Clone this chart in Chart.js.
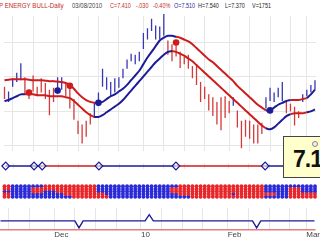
<!DOCTYPE html>
<html>
<head>
<meta charset="utf-8">
<script src="https://cdn.jsdelivr.net/npm/chart.js@4.4.1/dist/chart.umd.min.js"></script>
<style>
  html, body { margin: 0; padding: 0; background: #fff; }
  #wrap { position: relative; width: 320px; height: 240px; overflow: hidden; font-family: "Liberation Sans", Arial, sans-serif; }
  #wrap canvas { position: absolute; left: 0; }
  .hdr { position: absolute; top: 2px; font-size: 7px; line-height: 8px; white-space: pre; z-index: 2; transform-origin: 0 0; transform: scaleX(0.78); }
  .red { color: #c62828; }
  #priceBox { position: absolute; left: 283px; top: 136px; width: 50px; height: 40px; background: #ffffcc; border: 1px solid #444; z-index: 3; }
  #priceBox span.val { position: absolute; left: 9px; top: 9px; font-size: 23px; font-weight: bold; color: #111; letter-spacing: -1px; }
  #priceBox span.pin { position: absolute; left: 28px; top: 4px; width: 4px; height: 4px; border: 1px solid #888; border-radius: 50%; background: #eee; }
</style>
</head>
<body>
<div id="wrap">
  <span class="hdr red" style="left:-1px;transform:scaleX(0.88)">P ENERGY BULL-Daily</span>
  <span class="hdr" style="left:72px;color:#444;transform:scaleX(0.86)">03/08/2010</span>
  <span class="hdr red" style="left:110px">C=7.410</span>
  <span class="hdr red" style="left:136px">-.030</span>
  <span class="hdr red" style="left:153px">-0.40%</span>
  <span class="hdr" style="left:174px;color:#2a2aa0">O=7.510</span>
  <span class="hdr" style="left:198px;color:#222">H=7.540</span>
  <span class="hdr" style="left:225px;color:#222">L=7.370</span>
  <span class="hdr" style="left:252px;color:#222">V=1751</span>

  <canvas id="price" width="320" height="143" style="top:12px"></canvas>
  <canvas id="signal" width="320" height="16" style="top:158px"></canvas>
  <canvas id="matrix" width="320" height="21" style="top:181px"></canvas>
  <canvas id="cycle" width="320" height="32" style="top:208px"></canvas>

  <div id="priceBox"><span class="val">7.1</span><span class="pin"></span></div>
</div>

<script>
// ── Data ─────────────────────────────────────────────────

const barHigh = [
  7.50, 7.40, 7.68, 7.80, 8.00, 7.70, 7.44, 7.74, 7.50, 7.68,
  7.58, 7.44, 7.48, 7.70, 7.70, 7.58, 7.58, 7.24, 6.78, 6.70,
  6.78, 6.94, 7.18, 7.38, 7.88, 7.70, 7.60, 7.68, 7.70, 7.88,
  8.08, 8.20, 8.18, 8.24, 8.64, 8.74, 8.94, 8.80, 8.78, 9.04,
  8.48, 8.40, 8.38, 8.24, 8.14, 8.18, 7.94, 7.98, 7.60, 7.50,
  7.34, 7.28, 7.18, 7.28, 7.30, 7.20, 7.28, 7.00, 6.78, 6.80,
  6.78, 6.70, 6.70, 6.74, 7.28, 7.48, 7.38, 7.48, 7.60, 7.18,
  7.14, 7.08, 6.98, 7.34, 7.44, 7.54, 7.64,
];
const barLow = [
  7.24, 7.18, 7.50, 7.60, 7.64, 7.34, 7.24, 7.40, 7.30, 7.38,
  7.24, 6.90, 7.18, 7.38, 7.44, 7.30, 7.04, 6.80, 6.50, 6.30,
  6.44, 6.70, 6.84, 7.10, 7.50, 7.44, 7.30, 7.38, 7.48, 7.68,
  7.88, 8.04, 7.98, 8.04, 8.30, 8.50, 8.68, 8.50, 8.50, 8.58,
  8.18, 8.04, 8.14, 7.90, 7.98, 7.88, 7.68, 7.54, 7.18, 7.24,
  7.00, 6.88, 6.70, 6.58, 6.84, 6.94, 7.10, 6.64, 6.20, 6.44,
  6.40, 6.30, 6.30, 6.50, 7.04, 7.20, 7.18, 7.28, 7.20, 6.94,
  6.98, 6.68, 6.84, 7.18, 7.30, 7.38, 7.44,
];
// 1 = up (blue), -1 = down (red)
const barTrend = [
  -1, 1, 1, 1, 1, -1, -1, -1, -1, -1,
  -1, -1, -1, 1, 1, -1, -1, -1, -1, -1,
  -1, -1, 1, 1, 1, 1, 1, 1, 1, 1,
  1, 1, 1, 1, 1, 1, 1, 1, 1, 1,
  -1, -1, -1, -1, -1, -1, -1, -1, -1, -1,
  -1, -1, -1, -1, -1, -1, 1, -1, -1, -1,
  -1, -1, -1, -1, 1, 1, 1, 1, 1, -1,
  -1, -1, -1, 1, 1, 1, 1,
];

const bandUpper = [
  7.64, 7.65, 7.66, 7.66, 7.66, 7.66, 7.65, 7.64, 7.64, 7.64,
  7.63, 7.62, 7.62, 7.61, 7.60, 7.58, 7.54, 7.46, 7.36, 7.28,
  7.22, 7.18, 7.16, 7.16, 7.18, 7.24, 7.30, 7.34, 7.40, 7.46,
  7.54, 7.64, 7.74, 7.84, 7.98, 8.12, 8.24, 8.36, 8.48, 8.54,
  8.58, 8.58, 8.56, 8.54, 8.50, 8.46, 8.40, 8.32, 8.24, 8.16,
  8.08, 8.02, 7.94, 7.86, 7.78, 7.70, 7.62, 7.52, 7.44, 7.36,
  7.28, 7.20, 7.12, 7.06, 7.00, 7.00, 7.06, 7.12, 7.16, 7.20,
  7.22, 7.22, 7.22, 7.24, 7.26, 7.34, 7.44,
];
const bandLower = [
  7.20, 7.22, 7.26, 7.30, 7.34, 7.34, 7.34, 7.34, 7.32, 7.32,
  7.32, 7.30, 7.30, 7.30, 7.30, 7.28, 7.26, 7.20, 7.12, 7.04,
  6.96, 6.90, 6.86, 6.86, 6.90, 6.96, 7.02, 7.08, 7.14, 7.22,
  7.32, 7.42, 7.52, 7.62, 7.72, 7.82, 7.92, 8.02, 8.10, 8.18,
  8.24, 8.26, 8.24, 8.20, 8.16, 8.10, 8.04, 7.96, 7.88, 7.80,
  7.72, 7.64, 7.56, 7.48, 7.40, 7.32, 7.24, 7.16, 7.08, 7.00,
  6.92, 6.84, 6.76, 6.68, 6.62, 6.60, 6.64, 6.72, 6.80, 6.88,
  6.92, 6.94, 6.94, 6.94, 6.96, 6.98, 7.02,
];
const upperTrend = [
  -1, -1, -1, -1, -1, -1, -1, -1, -1, -1,
  -1, -1, -1, -1, -1, -1, -1, -1, -1, -1,
  -1, -1, -1, 1, 1, 1, 1, 1, 1, 1,
  1, 1, 1, 1, 1, 1, 1, 1, 1, 1,
  1, 1, -1, -1, -1, -1, -1, -1, -1, -1,
  -1, -1, -1, -1, -1, -1, -1, -1, -1, -1,
  -1, -1, -1, -1, 1, 1, 1, 1, 1, 1,
  -1, -1, -1, -1, 1, 1, 1,
];
const lowerTrend = [
  1, 1, 1, 1, 1, -1, -1, -1, -1, -1,
  -1, -1, -1, -1, -1, -1, -1, -1, -1, -1,
  -1, -1, 1, 1, 1, 1, 1, 1, 1, 1,
  1, 1, 1, 1, 1, 1, 1, 1, 1, 1,
  1, -1, -1, -1, -1, -1, -1, -1, -1, -1,
  -1, -1, -1, -1, -1, -1, -1, -1, -1, -1,
  -1, -1, -1, -1, 1, 1, 1, 1, 1, 1,
  -1, -1, -1, -1, 1, 1, 1,
];

// big signal dots on the price panel
const dotBar = [6, 13, 16, 23, 42, 65];
const dotPrice = [7.38, 7.42, 7.52, 7.16, 8.44, 7.00];
const dotTrend = [-1, 1, -1, 1, -1, 1];

// diamond row: marks and the bars where its colour flips
const signalMarks = [0, 7, 9, 23, 42, 64];
const signalFlips = [9, 23, 42, 64];

// dot matrix, top row first, as runs of [count, colour]
const matrixRow1 = [[2, "R"], [8, "B"], [13, "R"], [20, "B"], [21, "R"], [13, "B"]];
const matrixRow2 = [[2, "R"], [5, "B"], [16, "R"], [18, "B"], [23, "R"], [6, "B"], [3, "R"], [4, "B"]];
const matrixRow3 = [[7, "B"], [3, "R"], [3, "B"], [10, "R"], [18, "B"], [23, "R"], [6, "B"], [3, "R"], [4, "B"]];
const matrixRow4 = [[2, "R"], [13, "B"], [10, "R"], [18, "B"], [13, "R"], [1, "B"], [10, "R"], [3, "B"], [7, "R"]];
const matrixRow5 = [[2, "R"], [15, "B"], [9, "R"], [20, "B"], [18, "R"], [6, "B"], [7, "R"]];

// bottom cycle line vertices
const cycleBar = [0, 18, 19, 20, 35, 36, 37, 61, 62, 63, 76];
const cycleValue = [0, 0, -0.85, 0, 0, 0.75, 0, 0, -0.85, 0, 0];
const cycleFloor = -1.1;

// axis
const weekTicks = [2, 7, 13, 18, 23, 28, 34, 39, 44, 49, 55, 60, 65, 70, 74];
const monthTicks = [13, 34, 55, 74];
const monthLabels = ["Dec", "10", "Feb", "Mar"];
const priceGrid = [6.25, 6.98, 7.71, 8.44];

// ── Styling ──────────────────────────────────────────────

const RED = "#cc1c1c";
const BLUE = "#1c1c96";
const BAR_RED = "#d43a3a";
const BAR_BLUE = "#3838b4";
const GRID = "#e6e6e6";
const X_MIN = -0.12;
const X_MAX = 76.25;

Chart.defaults.font.family = '"Liberation Sans", Arial, sans-serif';

function xScale(showLabels) {
  return {
    type: "linear",
    min: X_MIN,
    max: X_MAX,
    afterBuildTicks: (axis) => {
      axis.ticks = weekTicks.map((v) => ({ value: v }));
    },
    afterFit: (axis) => {
      axis.height = showLabels ? 10 : 0;
    },
    grid: { color: GRID, drawTicks: false },
    border: { display: false },
    ticks: {
      display: showLabels,
      autoSkip: false,
      maxRotation: 0,
      align: "start",
      padding: 0,
      color: "#444",
      font: { size: 8 },
      callback: (v) => {
        const k = monthTicks.indexOf(v);
        return k >= 0 ? monthLabels[k] : "";
      },
    },
  };
}

function baseOptions(scales) {
  return {
    responsive: false,
    animation: false,
    devicePixelRatio: 1,
    events: [],
    layout: { padding: 0 },
    plugins: { legend: { display: false }, tooltip: { enabled: false } },
    scales: scales,
  };
}

function barSegments(trend) {
  const pts = [];
  barHigh.forEach((h, i) => {
    if (barTrend[i] !== trend) return;
    pts.push({ x: i, y: h }, { x: i, y: barLow[i] }, { x: i, y: null });
  });
  return pts;
}

// one dataset per colour; a point is kept when a segment of that colour touches it
function bandPart(values, trend, dir, colour) {
  return {
    data: values.map((v, i) => ({
      x: i,
      y: trend[i] === dir || trend[i - 1] === dir ? v : null,
    })),
    borderColor: colour,
    borderWidth: 2,
    pointRadius: 0,
    tension: 0.3,
    spanGaps: false,
    clip: false,
  };
}

// ── Price panel ──────────────────────────────────────────

new Chart(document.getElementById("price"), {
  type: "line",
  data: {
    datasets: [
      {
        type: "scatter",
        data: dotBar.map((b, k) => ({ x: b, y: dotPrice[k] })),
        pointRadius: 3.3,
        pointBorderWidth: 0,
        pointBackgroundColor: dotTrend.map((t) => (t > 0 ? BLUE : RED)),
        clip: false,
      },
      bandPart(bandUpper, upperTrend, 1, BLUE),
      bandPart(bandUpper, upperTrend, -1, RED),
      bandPart(bandLower, lowerTrend, 1, BLUE),
      bandPart(bandLower, lowerTrend, -1, RED),
      {
        data: barSegments(1),
        borderColor: BAR_BLUE,
        borderWidth: 1.3,
        borderCapStyle: "butt",
        pointRadius: 0,
        spanGaps: false,
        clip: false,
      },
      {
        data: barSegments(-1),
        borderColor: BAR_RED,
        borderWidth: 1.3,
        borderCapStyle: "butt",
        pointRadius: 0,
        spanGaps: false,
        clip: false,
      },
    ],
  },
  options: baseOptions({
    x: xScale(false),
    y: {
      min: 6.14,
      max: 9.0,
      afterBuildTicks: (axis) => {
        axis.ticks = priceGrid.map((v) => ({ value: v }));
      },
      afterFit: (axis) => {
        axis.width = 0;
      },
      grid: { color: GRID, drawTicks: false },
      border: { display: false },
      ticks: { display: false },
    },
  }),
});

// ── Diamond signal row ───────────────────────────────────

const signalUp = (i) => signalFlips.filter((f) => f <= i).length % 2 === 0;

new Chart(document.getElementById("signal"), {
  type: "line",
  data: {
    datasets: [
      {
        type: "scatter",
        data: signalMarks.map((b) => ({ x: b, y: 0 })),
        pointStyle: "rectRot",
        pointRadius: 3.8,
        pointBackgroundColor: "rgba(255,255,255,0.6)",
        pointBorderColor: BLUE,
        pointBorderWidth: 1.2,
        clip: false,
      },
      {
        data: [
          { x: X_MIN, y: 0 },
          ...barHigh.map((h, i) => ({ x: i, y: 0 })),
          { x: X_MAX, y: 0 },
        ],
        borderWidth: 1.4,
        pointRadius: 0,
        clip: false,
        segment: {
          borderColor: (ctx) => (signalUp(Math.max(0, ctx.p0DataIndex - 1)) ? BLUE : RED),
        },
      },
    ],
  },
  options: baseOptions({
    x: xScale(false),
    y: { display: false, min: -1, max: 1 },
  }),
});

// ── Dot matrix ───────────────────────────────────────────

const matrixRows = [matrixRow1, matrixRow2, matrixRow3, matrixRow4, matrixRow5];
const redDots = [];
const blueDots = [];
matrixRows.forEach((runs, r) => {
  let i = 0;
  runs.forEach(([count, colour]) => {
    for (let k = 0; k < count; k++, i++) {
      (colour === "R" ? redDots : blueDots).push({ x: i, y: 5 - r });
    }
  });
});

new Chart(document.getElementById("matrix"), {
  type: "scatter",
  data: {
    datasets: [
      { data: redDots, pointRadius: 1.95, pointBorderWidth: 0, pointBackgroundColor: "#e8262a", clip: false },
      { data: blueDots, pointRadius: 1.95, pointBorderWidth: 0, pointBackgroundColor: "#2a2ad8", clip: false },
    ],
  },
  options: baseOptions({
    x: xScale(false),
    y: { display: false, min: 0.5, max: 5.5 },
  }),
});

// ── Cycle panel with month axis ──────────────────────────

new Chart(document.getElementById("cycle"), {
  type: "line",
  data: {
    datasets: [
      {
        data: cycleBar.map((b, k) => ({ x: b, y: cycleValue[k] })),
        borderColor: BLUE,
        borderWidth: 1.4,
        pointRadius: 0,
        clip: false,
      },
      {
        data: [
          { x: X_MIN, y: cycleFloor },
          { x: X_MAX, y: cycleFloor },
        ],
        borderColor: "#d84040",
        borderWidth: 1,
        pointRadius: 0,
        clip: false,
      },
    ],
  },
  options: baseOptions({
    x: xScale(true),
    y: { display: false, min: -1.12, max: 1.57 },
  }),
});
</script>
</body>
</html>
